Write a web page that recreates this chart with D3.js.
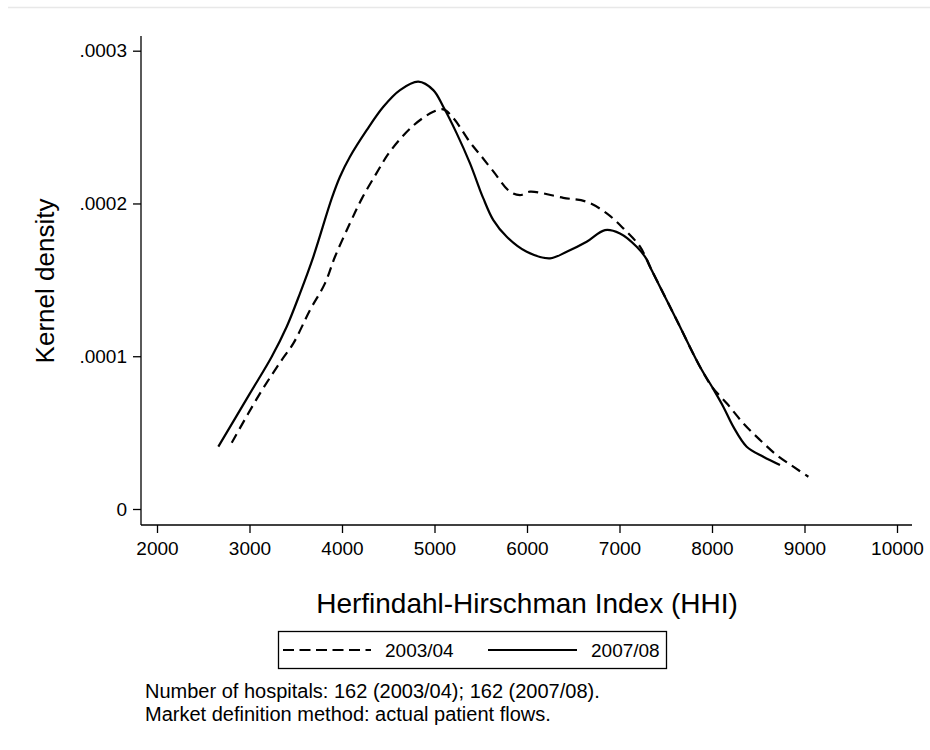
<!DOCTYPE html>
<html><head><meta charset="utf-8">
<script src="https://cdnjs.cloudflare.com/ajax/libs/d3/7.8.5/d3.min.js"></script>
<style>body{margin:0;background:#fff}svg{display:block;font-family:"Liberation Sans",Arial,sans-serif}</style>
</head><body>
<svg id="chart" width="930" height="750"></svg>
<script>
// Kernel density of HHI, 2003/04 (dashed)
const hhi0304 = [2808,3114,3348,3474,3654,3816,3924,4086,4213,4375,4519,4771,4987,5095,5203,5384,5492,5636,5816,5924,6032,6392,6645,6862,7041,7222,7330,7618,7870,8000,8159,8339,8519,8700,8879,9042];
const dens0304 = [0.434,0.757,0.975,1.084,1.302,1.477,1.651,1.870,2.030,2.200,2.340,2.510,2.600,2.616,2.560,2.400,2.320,2.210,2.077,2.055,2.077,2.037,2.011,1.935,1.837,1.717,1.586,1.237,0.931,0.800,0.692,0.561,0.452,0.353,0.277,0.211].map(v => v * 1e-4);
// Kernel density of HHI, 2007/08 (solid)
const hhi0708 = [2663,3005,3240,3402,3546,3690,3889,3978,4086,4267,4447,4627,4825,4987,5095,5240,5384,5492,5528,5636,5781,5997,6249,6429,6645,6843,7005,7186,7294,7330,7618,7870,8000,8122,8230,8375,8555,8735];
const dens0708 = [0.408,0.757,0.997,1.193,1.412,1.651,2.033,2.175,2.306,2.480,2.633,2.742,2.797,2.742,2.633,2.459,2.262,2.088,2.033,1.891,1.782,1.684,1.641,1.684,1.749,1.826,1.804,1.717,1.634,1.586,1.237,0.931,0.800,0.670,0.539,0.408,0.342,0.288].map(v => v * 1e-4);

const xTicks = [2000,3000,4000,5000,6000,7000,8000,9000,10000];
const yTicks = [0,0.0001,0.0002,0.0003];
const yTickLabels = ["0",".0001",".0002",".0003"];
const seriesNames = ["2003/04","2007/08"];
const xTitle = "Herfindahl-Hirschman Index (HHI)";
const yTitle = "Kernel density";
const notes = ["Number of hospitals: 162 (2003/04); 162 (2007/08).","Market definition method: actual patient flows."];

const svg = d3.select("#chart");
const x = d3.scaleLinear().domain([2000,10000]).range([157,897]);
const y = d3.scaleLinear().domain([0,0.0003]).range([509,50.7]);

// faint outer border line
svg.append("line").attr("x1",8).attr("x2",930).attr("y1",7.5).attr("y2",7.5)
  .attr("stroke","#e8e8e8").attr("stroke-width",1.5);

// axes lines
svg.append("line").attr("x1",141).attr("x2",141).attr("y1",36).attr("y2",525)
  .attr("stroke","#000").attr("stroke-width",1.3);
svg.append("line").attr("x1",141).attr("x2",912).attr("y1",525).attr("y2",525)
  .attr("stroke","#000").attr("stroke-width",1.3);

// y ticks
const yAxis = d3.axisLeft(y).tickValues(yTicks).tickFormat((d,i)=>yTickLabels[i]).tickSize(8).tickPadding(6);
const gy = svg.append("g").attr("transform","translate(141,0)").call(yAxis);
gy.select(".domain").remove();
gy.selectAll("text").attr("font-size",19).attr("fill","#000").attr("font-family","'Liberation Sans',Arial,sans-serif");
gy.selectAll("line").attr("stroke","#000").attr("stroke-width",1.3);

// x ticks
const xAxis = d3.axisBottom(x).tickValues(xTicks).tickFormat(d3.format("d")).tickSize(8).tickPadding(9);
const gx = svg.append("g").attr("transform","translate(0,525)").call(xAxis);
gx.select(".domain").remove();
gx.selectAll("text").attr("font-size",19).attr("fill","#000").attr("font-family","'Liberation Sans',Arial,sans-serif");
gx.selectAll("line").attr("stroke","#000").attr("stroke-width",1.3);

// titles
svg.append("text").attr("x",527).attr("y",613).attr("text-anchor","middle")
  .attr("font-size",28).text(xTitle);
svg.append("text").attr("transform","translate(54,281) rotate(-90)").attr("text-anchor","middle")
  .attr("font-size",26).text(yTitle);

// curves
const line = d3.line().x(d=>x(d[0])).y(d=>y(d[1])).curve(d3.curveCatmullRom.alpha(0.5));
const d0304 = hhi0304.map((v,i)=>[v,dens0304[i]]);
const d0708 = hhi0708.map((v,i)=>[v,dens0708[i]]);
svg.append("path").attr("d",line(d0708)).attr("fill","none").attr("stroke","#000").attr("stroke-width",2.2);
svg.append("path").attr("d",line(d0304)).attr("fill","none").attr("stroke","#000").attr("stroke-width",2.2)
  .attr("stroke-dasharray","10,6");

// legend
svg.append("rect").attr("x",278.5).attr("y",631.5).attr("width",388).attr("height",37)
  .attr("fill","#fff").attr("stroke","#000").attr("stroke-width",1.3);
svg.append("line").attr("x1",283).attr("x2",371).attr("y1",650).attr("y2",650)
  .attr("stroke","#000").attr("stroke-width",2.2).attr("stroke-dasharray","11,5.5");
svg.append("text").attr("x",385).attr("y",657).attr("font-size",19).text(seriesNames[0]);
svg.append("line").attr("x1",488).attr("x2",577).attr("y1",650).attr("y2",650)
  .attr("stroke","#000").attr("stroke-width",2.2);
svg.append("text").attr("x",591).attr("y",657).attr("font-size",19).text(seriesNames[1]);

// notes
notes.forEach((t,i)=>{
  svg.append("text").attr("x",145).attr("y",698+i*23).attr("font-size",20).text(t);
});
</script>
</body></html>
